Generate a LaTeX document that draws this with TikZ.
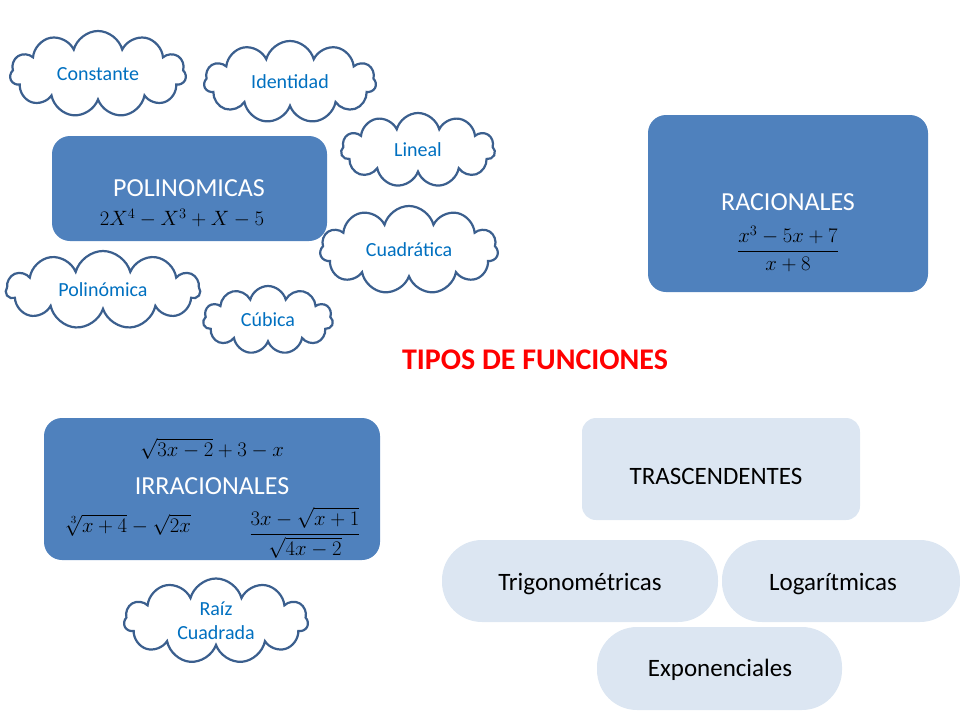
\documentclass[tikz,border=0pt]{standalone}
\usepackage{fontspec}
\usepackage{amsmath}
\setmainfont{Carlito}
\usetikzlibrary{shapes.symbols}
\definecolor{cloudline}{HTML}{3B5F8E}
\definecolor{cloudtext}{HTML}{0070C0}
\definecolor{boxblue}{HTML}{4F81BD}
\definecolor{lightbox}{HTML}{DCE6F2}
\begin{document}
\begin{tikzpicture}[x=1pt,y=-1pt,
  cl/.style={cloud, cloud puffs=11, cloud ignores aspect, draw=cloudline, line width=2.2pt, fill=white, text=cloudtext, inner sep=0pt, align=center, font=\fontsize{20}{24}\selectfont},
  bbox/.style={rounded corners=18pt, fill=boxblue, draw=none},
  lbox/.style={rounded corners=14pt, fill=lightbox, draw=none},
  pill/.style={rounded corners=40pt, fill=lightbox, draw=none},
  wtxt/.style={text=white, inner sep=1pt, font=\fontsize{26}{30}\selectfont},
  mtxt/.style={text=black, inner sep=0pt, font=\fontsize{22}{26}\selectfont},
  btxt/.style={text=black, font=\fontsize{25}{30}\selectfont}]
\useasboundingbox (0,0) rectangle (960,720);
\node[cl, minimum width=176pt, minimum height=86pt] (c1) at (98,74) {Constante};
\node[cl, minimum width=172pt, minimum height=82pt] (c2) at (290,82) {Identidad};
\node[cl, minimum width=154pt, minimum height=74pt] (c3) at (418,150) {Lineal};
\node[cl, minimum width=178pt, minimum height=88pt] (c4) at (409,250) {Cuadrática};
\node[cl, minimum width=194pt, minimum height=78pt] (c5) at (103,290) {Polinómica};
\node[cl, minimum width=130pt, minimum height=68pt] (c6) at (268,320) {Cúbica};
\node[cl, minimum width=184pt, minimum height=85pt] (c7) at (216,621) {Raíz\\Cuadrada};
% POLINOMICAS
\path[bbox] (52,136) rectangle (327,241);
\node[wtxt] (p1) at (189,188) {POLINOMICAS};
\node[mtxt] (p2) at (182,218) {$2X^4-X^3+X-5$};
% RACIONALES
\path[bbox] (648,115) rectangle (928,292);
\node[wtxt] (r1) at (788,202) {RACIONALES};
\node[mtxt] (r2) at (788,249) {$\dfrac{x^3-5x+7}{x+8}$};
% IRRACIONALES
\path[bbox] (44,418) rectangle (380,560);
\node[mtxt] (i1) at (212,449) {$\sqrt{3x-2}+3-x$};
\node[wtxt] (i2) at (212,486) {IRRACIONALES};
\node[mtxt] (i3) at (128,525) {$\sqrt[3]{x+4}-\sqrt{2x}$};
\node[mtxt] (i4) at (305,533) {$\dfrac{3x-\sqrt{x+1}}{\sqrt{4x-2}}$};
% Title
\node[text=red, font=\bfseries\fontsize{30}{34}\selectfont] (t) at (535,360) {TIPOS DE FUNCIONES};
% Trascendentes
\path[lbox] (582,418) rectangle (860,520);
\node[btxt] (tr) at (716,476) {TRASCENDENTES};
\path[pill] (442,540) rectangle (718,622);
\node[btxt] (tg) at (580,584) {Trigonométricas};
\path[pill] (722,540) rectangle (960,622);
\node[btxt] (lg) at (833,584) {Logarítmicas};
\path[pill] (597,627) rectangle (842,710);
\node[btxt] (ex) at (720,670) {Exponenciales};
\end{tikzpicture}
\end{document}
